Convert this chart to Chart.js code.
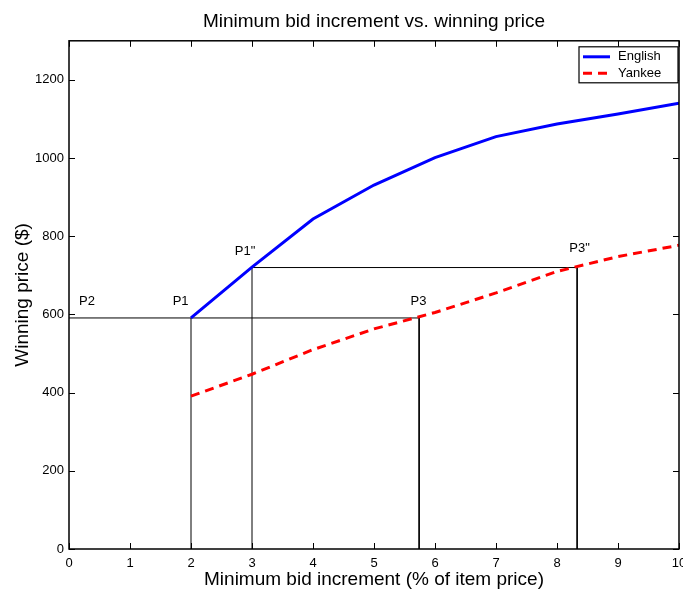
<!DOCTYPE html>
<html><head><meta charset="utf-8">
<script src="https://cdn.jsdelivr.net/npm/chart.js@4"></script>
<style>html,body{margin:0;padding:0;background:#fff;overflow:hidden}</style>
</head><body>
<canvas id="c" width="683" height="592"></canvas>
<script>
// ---- data ----
const increments = [2, 3, 4, 5, 6, 7, 8, 9, 10];
const englishPrice = [591, 721, 844, 931, 1001, 1055, 1087, 1113, 1140];
const yankeePrice = [391, 447, 510, 563, 605, 655, 710, 748, 777];
const xTickValues = [0, 1, 2, 3, 4, 5, 6, 7, 8, 9, 10];
const yTickValues = [0, 200, 400, 600, 800, 1000, 1200];
// guide paths (data units)
const guideP2P3X = [0, 5.74, 5.74];
const guideP2P3Y = [591, 591, 0];
const guideP1X = [2, 2];
const guideP1Y = [0, 591];
const guideP1bX = [3, 3, 8.33, 8.33];
const guideP1bY = [0, 720, 720, 0];
// point annotations (data units)
const pointNames = ['P2', 'P1', 'P1"', 'P3', 'P3"'];
const pointNameX = [0.295, 1.83, 2.885, 5.73, 8.37];
const pointNameY = [633, 633, 761, 633, 769];

const FONT = "'Liberation Sans', Arial, Helvetica, sans-serif";
Chart.defaults.font.family = FONT;
Chart.defaults.color = '#000';

const zip = (xs, ys) => xs.map((x, i) => ({ x: x, y: ys[i] }));

const framePlugin = {
  id: 'frame',
  afterDraw(chart) {
    const { ctx, chartArea: a, scales: { x, y } } = chart;
    ctx.save();
    ctx.strokeStyle = '#000';
    ctx.lineWidth = 1;
    const L = 6;
    ctx.beginPath();
    xTickValues.forEach(v => {
      const px = Math.round(x.getPixelForValue(v)) + 0.5;
      ctx.moveTo(px, a.bottom); ctx.lineTo(px, a.bottom - L);
      ctx.moveTo(px, a.top); ctx.lineTo(px, a.top + L);
    });
    yTickValues.forEach(v => {
      const py = Math.round(y.getPixelForValue(v)) + 0.5;
      ctx.moveTo(a.left, py); ctx.lineTo(a.left + L, py);
      ctx.moveTo(a.right, py); ctx.lineTo(a.right - L, py);
    });
    ctx.stroke();
    ctx.lineWidth = 1.5;
    ctx.strokeRect(a.left, a.top, a.right - a.left, a.bottom - a.top);

    // point labels
    ctx.fillStyle = '#000';
    ctx.font = '13px ' + FONT;
    ctx.textAlign = 'center';
    ctx.textBaseline = 'middle';
    pointNames.forEach((t, i) => {
      ctx.fillText(t, x.getPixelForValue(pointNameX[i]), y.getPixelForValue(pointNameY[i]));
    });

    // legend
    const ds = chart.data.datasets.slice(0, 2);
    const bw = 99, bh = 36;
    const bx = a.right - 1 - bw, by = a.top + 6;
    ctx.fillStyle = '#fff';
    ctx.fillRect(bx, by, bw, bh);
    ctx.lineWidth = 1.2;
    ctx.strokeStyle = '#000';
    ctx.strokeRect(bx, by, bw, bh);
    ds.forEach((d, i) => {
      const ly = by + 10 + i * 16.5;
      ctx.save();
      ctx.strokeStyle = d.borderColor;
      ctx.lineWidth = d.borderWidth;
      ctx.setLineDash(d.borderDash || []);
      ctx.beginPath();
      ctx.moveTo(bx + 4, ly); ctx.lineTo(bx + 31, ly);
      ctx.stroke();
      ctx.restore();
      ctx.fillStyle = '#000';
      ctx.textAlign = 'left';
      ctx.textBaseline = 'middle';
      ctx.fillText(d.label, bx + 39, ly);
    });
    ctx.restore();
  }
};

new Chart(document.getElementById('c'), {
  type: 'line',
  data: {
    datasets: [
      { label: 'English', data: zip(increments, englishPrice), borderColor: '#0000ff', borderWidth: 3, pointRadius: 0, fill: false, tension: 0 },
      { label: 'Yankee', data: zip(increments, yankeePrice), borderColor: '#ff0000', borderWidth: 3, borderDash: [9, 6], pointRadius: 0, fill: false, tension: 0 },
      { label: 'guide1', data: zip(guideP2P3X, guideP2P3Y), borderColor: '#000', borderWidth: 1, pointRadius: 0, fill: false },
      { label: 'guide2', data: zip(guideP1X, guideP1Y), borderColor: '#000', borderWidth: 1, pointRadius: 0, fill: false },
      { label: 'guide3', data: zip(guideP1bX, guideP1bY), borderColor: '#000', borderWidth: 1, pointRadius: 0, fill: false }
    ]
  },
  options: {
    responsive: false,
    animation: false,
    devicePixelRatio: 1,
    layout: { padding: { left: 0, right: 4, top: 0, bottom: 0 } },
    plugins: {
      legend: { display: false },
      tooltip: { enabled: false },
      title: {
        display: true,
        text: 'Minimum bid increment vs. winning price',
        fullSize: false,
        color: '#000',
        font: { size: 19, weight: 'normal', family: FONT },
        padding: { top: 10, bottom: 8 }
      }
    },
    scales: {
      x: {
        type: 'linear', min: 0, max: 10,
        grid: { display: false, drawTicks: false },
        border: { display: false },
        afterBuildTicks: s => { s.ticks = xTickValues.map(v => ({ value: v })); },
        afterFit: s => { s.height = 43; s.paddingLeft = 0; s.paddingRight = 0; },
        ticks: { font: { size: 13 }, padding: 7, maxRotation: 0, autoSkip: false, color: '#000', callback: v => String(v) },
        title: { display: true, text: 'Minimum bid increment (% of item price)', font: { size: 19 }, color: '#000', padding: { top: 0, bottom: 1 } }
      },
      y: {
        type: 'linear', min: 0, max: 1300,
        grid: { display: false, drawTicks: false },
        border: { display: false },
        afterBuildTicks: s => { s.ticks = yTickValues.map(v => ({ value: v })); },
        afterFit: s => { s.width = 69; s.paddingTop = 0; s.paddingBottom = 0; },
        ticks: { font: { size: 13 }, padding: 5, color: '#000', callback: v => String(v) },
        title: { display: true, text: 'Winning price ($)', font: { size: 19 }, color: '#000', padding: { top: 11, bottom: 0 } }
      }
    }
  },
  plugins: [framePlugin]
});
</script>
</body></html>
